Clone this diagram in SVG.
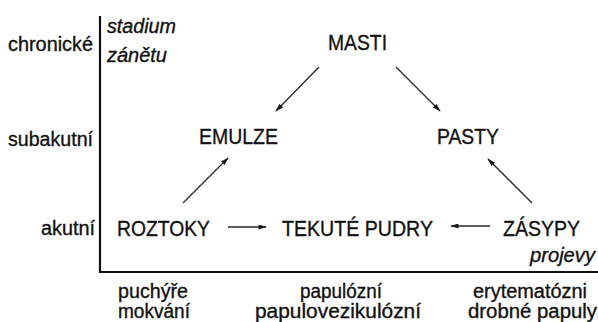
<svg xmlns="http://www.w3.org/2000/svg" width="598" height="322" viewBox="0 0 598 322">
  <defs>
    <style>
      .t { font-family: "Liberation Sans", Arial, sans-serif; fill: #111; stroke: #111; stroke-width: 0.35; }
      .cap { font-size: 22.5px; }
      .lab { font-size: 20px; }
      .it { font-size: 20px; font-style: italic; }
      .axis { stroke: #111; stroke-width: 2.2; fill: none; }
      .arr { stroke: #2a2a2a; stroke-width: 1.3; fill: none; marker-end: url(#head); }
    </style>
    <marker id="head" viewBox="0 0 10 6" refX="9" refY="3" markerWidth="9" markerHeight="5" markerUnits="userSpaceOnUse" orient="auto">
      <path d="M0,0 L10,3 L0,6 Z" fill="#1a1a1a"/>
    </marker>
  </defs>
  <rect width="598" height="322" fill="#ffffff"/>

  <!-- axes -->
  <g id="axes">
    <polyline class="axis" points="100,16 100,272 598,272"/>
  </g>

  <!-- stage labels (vertical axis) -->
  <g id="stages">
    <text class="t lab" x="8" y="51" textLength="85" lengthAdjust="spacingAndGlyphs">chronické</text>
    <text class="t lab" x="8" y="146" textLength="85" lengthAdjust="spacingAndGlyphs">subakutní</text>
    <text class="t lab" x="41" y="235" textLength="54" lengthAdjust="spacingAndGlyphs">akutní</text>
    <text class="t it" x="107" y="33" textLength="69" lengthAdjust="spacingAndGlyphs">stadium</text>
    <text class="t it" x="107" y="62" textLength="60" lengthAdjust="spacingAndGlyphs">zánětu</text>
  </g>

  <!-- manifestation labels (horizontal axis) -->
  <g id="manifestations">
    <text class="t it" x="530" y="262" textLength="65" lengthAdjust="spacingAndGlyphs">projevy</text>
    <text class="t lab" x="118" y="298" textLength="70" lengthAdjust="spacingAndGlyphs">puchýře</text>
    <text class="t lab" x="118" y="318" textLength="72" lengthAdjust="spacingAndGlyphs">mokvání</text>
    <text class="t lab" x="300" y="298" textLength="82" lengthAdjust="spacingAndGlyphs">papulózní</text>
    <text class="t lab" x="255" y="318" textLength="166" lengthAdjust="spacingAndGlyphs">papulovezikulózní</text>
    <text class="t lab" x="473" y="298" textLength="114" lengthAdjust="spacingAndGlyphs">erytematózni</text>
    <text class="t lab" x="468" y="318" textLength="129" lengthAdjust="spacingAndGlyphs">drobné papuly</text>
  </g>

  <!-- nodes -->
  <g id="masti"><text class="t cap" x="328" y="50" textLength="59" lengthAdjust="spacingAndGlyphs">MASTI</text></g>
  <g id="emulze"><text class="t cap" x="199" y="144" textLength="79" lengthAdjust="spacingAndGlyphs">EMULZE</text></g>
  <g id="pasty"><text class="t cap" x="437" y="144" textLength="62" lengthAdjust="spacingAndGlyphs">PASTY</text></g>
  <g id="roztoky"><text class="t cap" x="117" y="236" textLength="93" lengthAdjust="spacingAndGlyphs">ROZTOKY</text></g>
  <g id="tekute-pudry"><text class="t cap" x="282" y="236" textLength="151" lengthAdjust="spacingAndGlyphs">TEKUTÉ PUDRY</text></g>
  <g id="zasypy"><text class="t cap" x="503" y="236" textLength="77" lengthAdjust="spacingAndGlyphs">ZÁSYPY</text></g>

  <!-- connectors -->
  <g id="connectors">
    <line class="arr" x1="319" y1="67" x2="276" y2="111"/>
    <line class="arr" x1="396" y1="67" x2="440" y2="111"/>
    <line class="arr" x1="183" y1="203" x2="228" y2="158"/>
    <line class="arr" x1="532" y1="203" x2="488" y2="159"/>
    <line class="arr" x1="228" y1="227" x2="266" y2="227"/>
    <line class="arr" x1="490" y1="226" x2="451" y2="226"/>
  </g>
</svg>
